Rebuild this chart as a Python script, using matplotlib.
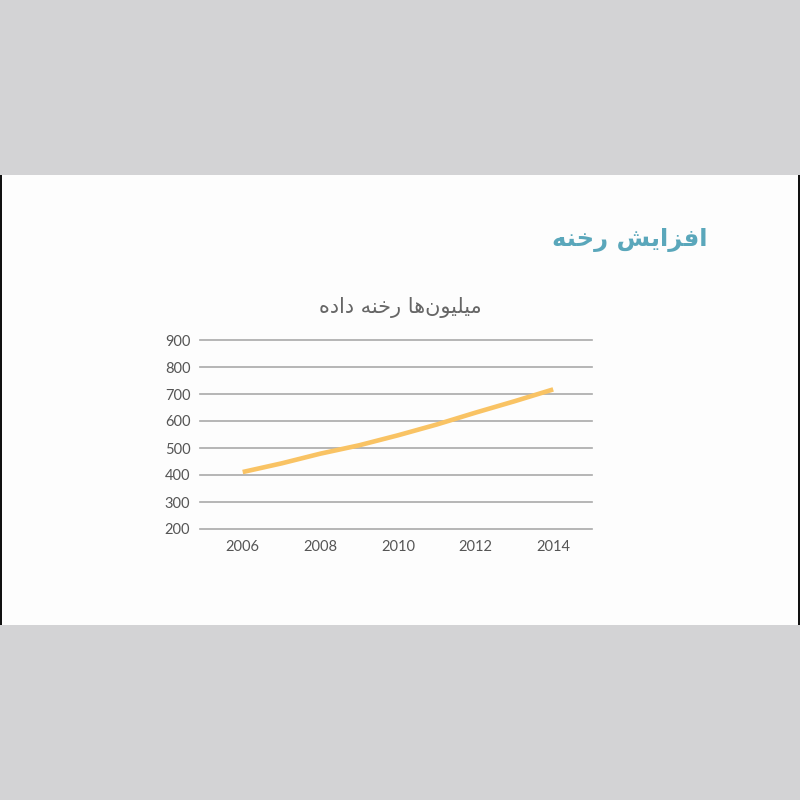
import matplotlib
matplotlib.use("Agg")
import matplotlib.pyplot as plt
from matplotlib.patches import Rectangle

# ---- data ----
years = [2006, 2007, 2008, 2009, 2010, 2011, 2012, 2013, 2014]
breaches = [411, 443, 479, 510, 547, 587, 631, 673, 717]
y_ticks = [200, 300, 400, 500, 600, 700, 800, 900]
x_ticks = [2006, 2008, 2010, 2012, 2014]
slide_title = "افزایش رخنه"
chart_title = "میلیون‌ها رخنه داده"

# ---- minimal Persian shaping (contextual forms + visual order) ----
FORMS = {
    "ا": ("\uFE8D", "\uFE8E", None, None),
    "ز": ("\uFEAF", "\uFEB0", None, None),
    "ر": ("\uFEAD", "\uFEAE", None, None),
    "و": ("\uFEED", "\uFEEE", None, None),
    "د": ("\uFEA9", "\uFEAA", None, None),
    "ف": ("\uFED1", "\uFED2", "\uFED3", "\uFED4"),
    "ی": ("\uFBFC", "\uFBFD", "\uFBFE", "\uFBFF"),
    "ش": ("\uFEB5", "\uFEB6", "\uFEB7", "\uFEB8"),
    "خ": ("\uFEA5", "\uFEA6", "\uFEA7", "\uFEA8"),
    "ن": ("\uFEE5", "\uFEE6", "\uFEE7", "\uFEE8"),
    "ه": ("\uFEE9", "\uFEEA", "\uFEEB", "\uFEEC"),
    "م": ("\uFEE1", "\uFEE2", "\uFEE3", "\uFEE4"),
    "ل": ("\uFEDD", "\uFEDE", "\uFEDF", "\uFEE0"),
}


def dual(c):
    return c in FORMS and FORMS[c][2] is not None


def shape(text):
    out = []
    n = len(text)
    for i, c in enumerate(text):
        if c == "\u200c":
            continue
        if c not in FORMS:
            out.append(c)
            continue
        prev = text[i - 1] if i > 0 else ""
        nxt = text[i + 1] if i + 1 < n else ""
        jp = dual(prev)
        jn = dual(c) and nxt in FORMS
        iso, fin, ini, med = FORMS[c]
        if jp and jn:
            out.append(med)
        elif jp:
            out.append(fin)
        elif jn:
            out.append(ini)
        else:
            out.append(iso)
    return "".join(out[::-1])


fig = plt.figure(figsize=(8, 8), dpi=100)
fig.patch.set_facecolor("#d3d3d5")
fig.add_artist(Rectangle((0, 175 / 800), 1, 450 / 800, transform=fig.transFigure,
                         facecolor="#fdfdfd", edgecolor="none", zorder=0))
fig.add_artist(Rectangle((0, 175 / 800), 2 / 800, 450 / 800, transform=fig.transFigure,
                         facecolor="#111111", edgecolor="none", zorder=1))
fig.add_artist(Rectangle((798 / 800, 175 / 800), 2 / 800, 450 / 800, transform=fig.transFigure,
                         facecolor="#111111", edgecolor="none", zorder=1))

fig.text(708 / 800, 1 - 240 / 800, shape(slide_title), ha="right", va="center",
         fontsize=17.5, fontweight="bold", color="#5aa7bb", family="DejaVu Sans")
fig.text(400 / 800, 1 - 307 / 800, shape(chart_title), ha="center", va="center",
         fontsize=15, color="#666666", family="DejaVu Sans")

ax = fig.add_axes([200 / 800, 1 - 529 / 800, 392 / 800, 189 / 800])
ax.set_facecolor("none")
ax.plot(years, breaches, color="#f9c364", lw=3.3, solid_capstyle="butt", zorder=3)
ax.set_xlim(2004.9, 2015.0)
ax.set_ylim(200, 900)
ax.set_yticks(y_ticks)
ax.set_xticks(x_ticks)
for s in ax.spines.values():
    s.set_visible(False)
ax.yaxis.grid(True, color="#a9a9a9", lw=1.2)
ax.set_axisbelow(True)
for gl in ax.yaxis.get_gridlines():
    gl.set_clip_on(False)
ax.tick_params(length=0, labelsize=10.5, labelcolor="#555555")
ax.tick_params(axis="y", pad=7)
ax.tick_params(axis="x", pad=8)
for lab in ax.get_xticklabels() + ax.get_yticklabels():
    lab.set_family("Lato")

fig.savefig("out.png", dpi=100, facecolor=fig.get_facecolor())
